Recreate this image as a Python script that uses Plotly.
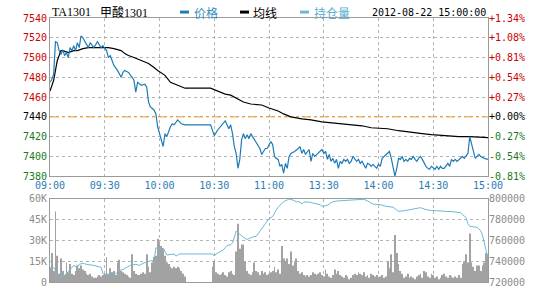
import plotly.graph_objects as go

# ---------------- data ----------------
code_label = "TA1301"
name_label = "甲酸1301"
legend_price = "价格"
legend_avg = "均线"
legend_oi = "持仓量"
timestamp = "2012-08-22 15:00:00"
prev_settle = 7440

time_ticks = [0, 30, 60, 90, 120, 150, 180, 210, 240]
time_labels = ["09:00", "09:30", "10:00", "10:30", "11:00", "13:30", "14:00", "14:30", "15:00"]

price_ticks = [7540, 7520, 7500, 7480, 7460, 7440, 7420, 7400, 7380]
pct_labels = ["+1.34%", "+1.08%", "+0.81%", "+0.54%", "+0.27%", "+0.00%", "-0.27%", "-0.54%", "-0.81%"]

vol_ticks = [0, 15000, 30000, 45000, 60000]
vol_labels = ["0", "15K", "30K", "45K", "60K"]
oi_ticks = [720000, 740000, 760000, 780000, 800000]
oi_labels = ["720000", "740000", "760000", "780000", "800000"]

# minute index (0 = 09:00, trading minutes, 150 = 13:30)
price_min = [0, 1, 2, 3, 4, 5, 6, 7, 8, 9, 10, 11, 12, 13, 14, 15, 16, 17, 18, 19,
             20, 21, 22, 23, 24, 25, 26, 27, 28, 29, 30, 31, 32, 33, 34, 35, 37, 38, 39, 40,
             41, 43, 44, 45, 46, 47, 48, 49, 50, 52, 53, 54, 55, 57, 58, 59, 61, 62, 63, 64,
             66, 67, 68, 70, 72, 74, 88, 89, 90, 92, 94, 96, 97, 98, 99, 100, 101, 102, 103, 104,
             105, 106, 107, 108, 109, 110, 111, 112, 114, 115, 116, 118, 119, 120, 121, 122, 123, 124, 125, 126,
             127, 128, 129, 130, 131, 132, 134, 136, 137, 138, 139, 140, 141, 142, 143, 144, 145, 146, 147, 148,
             149, 150, 151, 152, 153, 154, 155, 156, 157, 158, 159, 160, 161, 162, 163, 164, 165, 166, 167, 168,
             169, 170, 171, 172, 173, 174, 175, 176, 177, 178, 179, 180, 181, 182, 183, 185, 186, 187, 188, 189,
             190, 191, 192, 193, 194, 195, 196, 197, 198, 199, 200, 201, 202, 203, 204, 205, 206, 207, 208, 209,
             210, 211, 212, 213, 214, 215, 216, 217, 218, 219, 220, 221, 222, 223, 224, 225, 226, 227, 228, 229,
             230, 231, 232, 233, 234, 235, 236, 238, 240]
price_val = [7475, 7478, 7483, 7516, 7515, 7507, 7503, 7508, 7502, 7505, 7500, 7510, 7507, 7512, 7507, 7515, 7510, 7522, 7520, 7517,
             7513, 7510, 7515, 7512, 7510, 7513, 7516, 7513, 7510, 7512, 7510, 7507, 7500, 7502, 7497, 7492, 7487, 7483, 7480, 7485,
             7487, 7485, 7483, 7480, 7477, 7465, 7475, 7473, 7472, 7473, 7470, 7455, 7450, 7447, 7443, 7430, 7418, 7410, 7423, 7420,
             7430, 7433, 7432, 7437, 7433, 7432, 7432, 7427, 7421, 7427, 7432, 7436, 7432, 7428, 7432, 7423, 7410, 7403, 7388, 7397,
             7417, 7423, 7418, 7422, 7418, 7423, 7420, 7417, 7412, 7408, 7402, 7408, 7408, 7412, 7415, 7412, 7400, 7398, 7397, 7390,
             7392, 7383, 7393, 7388, 7400, 7403, 7405, 7408, 7410, 7403, 7407, 7402, 7405, 7407, 7395, 7403, 7400, 7402, 7403, 7405,
             7407, 7403, 7405, 7397, 7402, 7395, 7398, 7393, 7397, 7388, 7395, 7393, 7397, 7395, 7397, 7393, 7395, 7400, 7397, 7395,
             7397, 7393, 7395, 7392, 7388, 7393, 7392, 7390, 7392, 7390, 7388, 7392, 7390, 7398, 7400, 7403, 7405, 7398, 7390, 7380,
             7388, 7398, 7397, 7400, 7395, 7397, 7395, 7398, 7397, 7400, 7397, 7395, 7398, 7400, 7397, 7393, 7390, 7388, 7387, 7390,
             7388, 7387, 7390, 7387, 7390, 7388, 7388, 7390, 7393, 7390, 7397, 7395, 7397, 7395, 7397, 7398, 7400, 7398, 7400, 7403,
             7420, 7412, 7403, 7398, 7400, 7402, 7400, 7398, 7397]

avg_min = [0, 2, 3, 4, 6, 7, 10, 13, 15, 18, 21, 32, 35, 37, 39, 41, 43, 46, 50, 54,
           57, 59, 63, 66, 70, 74, 88, 92, 96, 99, 103, 106, 110, 116, 120, 122, 125, 128, 132, 138,
           143, 149, 154, 160, 165, 171, 176, 183, 185, 191, 198, 204, 209, 216, 224, 230, 240]
avg_val = [7466, 7477, 7487, 7497, 7507, 7507, 7505, 7507, 7507, 7509, 7510, 7510, 7509, 7508, 7507, 7504, 7502, 7500, 7497, 7494,
           7490, 7487, 7482, 7475, 7472, 7469, 7469, 7466, 7463, 7462, 7458, 7455, 7453, 7452, 7449, 7448, 7446, 7443, 7440, 7438,
           7437, 7435, 7434, 7433, 7432, 7431, 7429, 7428, 7428, 7426, 7424, 7423, 7422, 7421, 7420, 7420, 7419]

# volume per minute, thousands (minutes 0..240)
vol_k = [10, 21, 8, 51, 19, 6, 17, 8, 5, 14,
         7, 13, 6, 5, 8, 12, 10, 12, 9, 8,
         6, 5, 6, 4, 3, 3, 4, 5, 4, 5,
         6, 18, 6, 10, 7, 8, 5, 14, 16, 8,
         7, 6, 5, 4, 3, 20, 8, 6, 5, 5,
         6, 7, 6, 20, 11, 7, 14, 18, 19, 31,
         28, 26, 24, 19, 14, 13, 11, 10, 11, 10,
         11, 10, 8, 6, 4, 0, 0, 0, 0, 0,
         0, 0, 0, 0, 0, 0, 0, 0, 0, 11,
         15, 7, 6, 5, 6, 7, 5, 4, 7, 8,
         6, 5, 22, 42, 24, 27, 27, 15, 8, 6,
         5, 7, 14, 8, 7, 5, 8, 6, 7, 5,
         6, 7, 8, 11, 7, 9, 6, 26, 17, 15,
         17, 13, 22, 12, 15, 17, 8, 6, 7, 5,
         4, 5, 4, 5, 7, 6, 5, 6, 7, 5,
         4, 9, 6, 4, 3, 5, 9, 6, 8, 5,
         4, 3, 5, 4, 2, 3, 5, 6, 5, 7,
         6, 5, 7, 4, 5, 3, 6, 5, 4, 5,
         3, 4, 5, 3, 4, 15, 10, 20, 7, 34,
         21, 13, 8, 6, 3, 4, 6, 3, 4, 3,
         2, 4, 5, 6, 3, 8, 7, 4, 3, 6,
         5, 3, 4, 2, 3, 5, 6, 4, 3, 5,
         4, 3, 4, 3, 5, 3, 13, 15, 20, 14,
         35, 14, 11, 8, 12, 12, 8, 12, 14, 21,
         20]
vol_min = list(range(len(vol_k)))
vol_val = [v * 1000 for v in vol_k]

oi_min = [0, 2, 5, 6, 7, 9, 11, 13, 15, 16, 18, 20, 24, 27, 28, 29, 31, 33, 35, 36,
          38, 40, 42, 44, 47, 49, 51, 53, 55, 57, 58, 60, 62, 64, 68, 69, 71, 74, 89, 90,
          91, 93, 95, 97, 99, 100, 101, 102, 104, 106, 108, 110, 111, 113, 115, 117, 119, 120, 122, 124,
          126, 128, 130, 131, 133, 135, 137, 138, 139, 141, 142, 144, 146, 148, 149, 150, 152, 153, 155, 157,
          166, 172, 174, 175, 177, 181, 184, 188, 190, 191, 194, 197, 201, 203, 205, 208, 212, 216, 217, 221,
          225, 226, 228, 229, 230, 234, 236, 237, 238, 239, 240]
oi_k = [734, 734, 725, 725, 725, 728, 732, 736, 734, 737, 738, 737, 736, 735, 734, 728, 726, 728, 727, 728,
        731, 732, 734, 736, 737, 736, 738, 739, 740.5, 740.5, 753, 751, 752.5, 746, 747, 745, 747, 747, 747, 745,
        747, 749, 751, 755, 756, 757.5, 764, 769, 766, 763, 761, 763, 763.3, 764, 769, 773.6, 778, 781, 783, 789.6,
        794, 797.4, 799, 800, 799, 797.4, 797, 795, 797, 797.4, 797, 796, 795, 794.5, 793, 793, 794, 795, 797.4, 798,
        798.7, 799.7, 798, 796.8, 795, 794.5, 793, 792, 789.6, 788, 788.6, 789.6, 791, 791.6, 790.3, 789, 788.6, 787.7, 788, 787.7,
        786.7, 785, 782, 776, 773.7, 772.6, 769.5, 764.8, 756.9, 750.6, 743]
oi_val = [v * 1000 for v in oi_k]

# ---------------- styling ----------------
W, H = 540, 300
ML, MR, MT, MB = 50, 52, 18, 15
PW, PH = W - ML - MR, H - MT - MB


def fx(px):
    return (px - ML) / PW


def fy(py):
    return (H - MB - py) / PH


C_PRICE = "#1f7bb6"
C_OI = "#6cb9d6"
C_UP = "#cc0000"
C_DN = "#1a7a1a"
C_GRID = "#b4b4b4"
C_FRAME = "#9a9a9a"
MONO = "DejaVu Sans Mono"


def colored(v, text):
    c = C_UP if v > prev_settle else (C_DN if v < prev_settle else "#000000")
    return "<span style='color:%s'>%s</span>" % (c, text)


price_text = [colored(v, str(v)) for v in price_ticks]
pct_text = [colored(v, t) for v, t in zip(price_ticks, pct_labels)]

fig = go.Figure()
fig.add_trace(go.Bar(x=vol_min, y=vol_val, xaxis="x2", yaxis="y2",
                     marker=dict(color="#a2a2a2", line=dict(width=0)), width=0.45,
                     hoverinfo="skip"))
fig.add_trace(go.Scatter(x=oi_min, y=oi_val, xaxis="x2", yaxis="y4", mode="lines",
                         line=dict(color=C_OI, width=1)))
fig.add_trace(go.Scatter(x=[time_ticks[0], time_ticks[-1]], y=[prev_settle, prev_settle],
                         xaxis="x", yaxis="y", mode="lines",
                         line=dict(color="#e6a02a", width=1, dash="dashdot")))
fig.add_trace(go.Scatter(x=avg_min, y=avg_val, xaxis="x", yaxis="y", mode="lines",
                         line=dict(color="#000000", width=1.2)))
fig.add_trace(go.Scatter(x=price_min, y=price_val, xaxis="x", yaxis="y", mode="lines",
                         line=dict(color=C_PRICE, width=1.2)))
# invisible trace so the right-hand percentage axis is drawn
fig.add_trace(go.Scatter(x=price_min, y=price_val, xaxis="x", yaxis="y3", mode="lines",
                         line=dict(width=0), opacity=0, hoverinfo="skip"))

xcommon = dict(range=[time_ticks[0], time_ticks[-1]], tickmode="array", tickvals=time_ticks,
               showgrid=True, gridcolor=C_GRID, griddash="dot", gridwidth=1,
               showline=True, linecolor=C_FRAME, linewidth=1, mirror=True,
               zeroline=False, ticks="", fixedrange=True)

fig.update_layout(
    width=W, height=H, margin=dict(l=ML, r=MR, t=MT, b=MB),
    paper_bgcolor="white", plot_bgcolor="white", showlegend=False,
    xaxis=dict(xcommon, domain=[0, 1], anchor="y", ticktext=time_labels,
               tickfont=dict(family=MONO, size=10, color="#2a7db5")),
    xaxis2=dict(xcommon, domain=[0, 1], anchor="y2", showticklabels=False),
    yaxis=dict(domain=[fy(178), 1], range=[price_ticks[-1], price_ticks[0]], tickmode="array",
               tickvals=price_ticks, ticktext=price_text,
               tickfont=dict(family=MONO, size=10),
               showgrid=True, gridcolor=C_GRID, griddash="dot",
               showline=True, linecolor=C_FRAME, mirror=True, zeroline=False, ticks=""),
    yaxis3=dict(overlaying="y", side="right", anchor="x", range=[price_ticks[-1], price_ticks[0]],
                tickmode="array", tickvals=price_ticks, ticktext=pct_text,
                tickfont=dict(family=MONO, size=10), showgrid=False, showline=False,
                zeroline=False, ticks=""),
    yaxis2=dict(domain=[0, fy(201)], range=[vol_ticks[0], vol_ticks[-1]], tickmode="array",
                tickvals=vol_ticks, ticktext=vol_labels,
                tickfont=dict(family=MONO, size=10, color="#8c8c8c"),
                showgrid=True, gridcolor=C_GRID, griddash="dot",
                showline=True, linecolor=C_FRAME, mirror=True, zeroline=False, ticks=""),
    yaxis4=dict(overlaying="y2", side="right", anchor="x2", range=[oi_ticks[0], oi_ticks[-1]],
                tickmode="array", tickvals=oi_ticks, ticktext=oi_labels,
                tickfont=dict(family=MONO, size=10, color="#8c8c8c"),
                showgrid=False, showline=False, zeroline=False, ticks=""),
)

# header: labels and legend
ty = fy(12)
CJK = "Liberation Serif, Noto Sans CJK SC"
ann = [
    (51, code_label, "#000000", CJK, 12),
    (99, name_label, "#000000", CJK, 12),
    (193, legend_price, "#3a8cc0", "Noto Sans CJK SC", 12),
    (252, legend_avg, "#000000", "Noto Sans CJK SC", 12),
    (313, legend_oi, "#5ab0d2", "Noto Sans CJK SC", 12),
    (371, timestamp, "#000000", MONO, 10),
]
for px, txt, col, fam, sz in ann:
    fig.add_annotation(x=fx(px), y=ty, xref="paper", yref="paper", text=txt, showarrow=False,
                       xanchor="left", yanchor="middle", font=dict(family=fam, size=sz, color=col),
                       borderpad=0)
for x0, col in [(180, C_PRICE), (240, "#000000"), (300, C_OI)]:
    fig.add_shape(type="rect", xref="paper", yref="paper", x0=fx(x0), x1=fx(x0 + 9),
                  y0=fy(13.5), y1=fy(10.5), fillcolor=col, line=dict(width=0))

fig.write_html("out.html")
